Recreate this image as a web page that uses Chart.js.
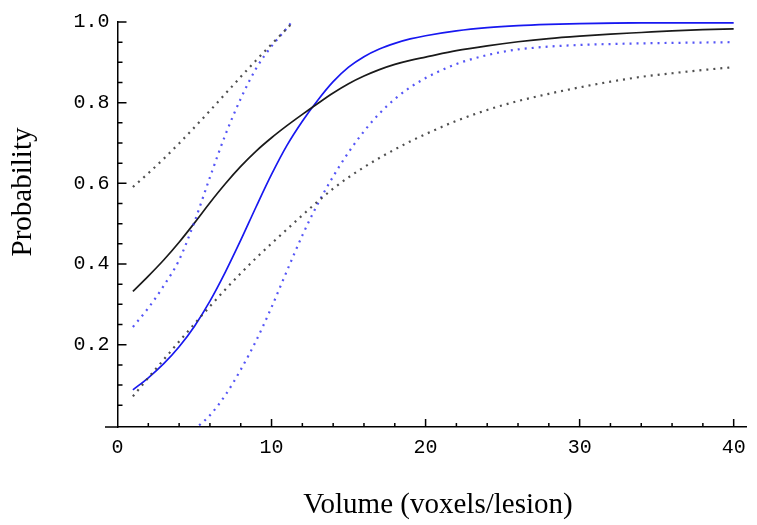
<!DOCTYPE html>
<html>
<head>
<meta charset="utf-8">
<script src="https://cdn.jsdelivr.net/npm/chart.js@4/dist/chart.umd.min.js"></script>
<style>
  html, body { margin: 0; padding: 0; background: #fff; }
  #wrap { position: relative; width: 757px; height: 525px; }
</style>
</head>
<body>
<div id="wrap"><canvas id="c" width="757" height="525"></canvas></div>
<script>
// ---- data ----
const xTickValues = [0, 10, 20, 30, 40];
const yTickValues = [0.2, 0.4, 0.6, 0.8, 1.0];
const xTitle = "Volume (voxels/lesion)";
const yTitle = "Probability";

const blackSolidX = [1,2,3,4,5,6,7,8,9,10,11,12,13,14,15,16,17,18,19,20,22,24,26,28,30,32,34,36,38,40];
const blackSolidY = [0.332,0.370,0.410,0.454,0.502,0.552,0.599,0.642,0.680,0.713,0.743,0.771,0.798,0.824,0.847,0.866,0.882,0.895,0.905,0.913,0.929,0.941,0.951,0.959,0.965,0.970,0.974,0.978,0.981,0.983];

const blueSolidX = [1,2,3,4,5,6,7,8,9,10,11,12,13,14,15,16,17,18,19,20,22,24,26,28,30,34,40];
const blueSolidY = [0.088,0.118,0.153,0.195,0.246,0.308,0.380,0.459,0.542,0.622,0.694,0.754,0.806,0.852,0.888,0.914,0.933,0.947,0.958,0.966,0.978,0.986,0.991,0.994,0.996,0.998,0.998];

const blackUpperX = [1,2,3,4,5,6,7,8,9,10,11,11.4];
const blackUpperY = [0.591,0.625,0.661,0.699,0.739,0.780,0.822,0.864,0.905,0.945,0.984,1.0];

const blackLowerX = [1,2,3,4,5,6,7,8,9,10,11,12,13,14,15,16,17,18,19,20,22,24,26,28,30,32,34,36,38,40];
const blackLowerY = [0.072,0.118,0.163,0.208,0.252,0.295,0.337,0.377,0.415,0.451,0.486,0.521,0.555,0.587,0.615,0.640,0.663,0.684,0.704,0.722,0.755,0.782,0.804,0.822,0.838,0.852,0.864,0.873,0.881,0.888];

const blueUpperX = [1,2,3,4,5,6,7,8,9,10,11,11.3];
const blueUpperY = [0.244,0.291,0.346,0.410,0.505,0.615,0.720,0.810,0.885,0.940,0.985,1.0];

const blueLowerX = [5.3,6,7,8,9,10,11,12,13,14,15,16,17,18,19,20,21,22,23,24,25,26,28,30,34,40];
const blueLowerY = [0.0,0.025,0.075,0.138,0.210,0.293,0.383,0.471,0.549,0.617,0.677,0.729,0.773,0.809,0.838,0.861,0.880,0.896,0.908,0.918,0.926,0.932,0.939,0.943,0.947,0.950];

function pts(xs, ys) { return xs.map((x, i) => ({ x: x, y: ys[i] })); }

const tickFont = { family: "'Liberation Mono', 'Courier New', monospace", size: 20 };

const axisDeco = {
  id: 'axisDeco',
  afterDraw(chart) {
    const ctx = chart.ctx;
    const xs = chart.scales.x, ys = chart.scales.y;
    const x0 = xs.getPixelForValue(0);
    const yb = ys.getPixelForValue(ys.min);
    ctx.save();
    ctx.strokeStyle = '#000';
    ctx.lineWidth = 1.5;
    ctx.beginPath();
    // x axis line continues a little to the left of the y axis
    ctx.moveTo(x0 - 12.5, yb); ctx.lineTo(x0, yb);
    // y ticks (inward, to the right)
    for (let i = 1; i <= 20; i++) {
      const v = i * 0.05;
      const p = ys.getPixelForValue(v);
      const len = (i % 4 === 0) ? 9 : 5;
      ctx.moveTo(x0, p); ctx.lineTo(x0 + len, p);
    }
    // x ticks (inward, upward)
    for (let v = 2; v <= 40; v += 2) {
      const p = xs.getPixelForValue(v);
      const len = (v % 10 === 0) ? 8 : 4;
      ctx.moveTo(p, yb); ctx.lineTo(p, yb - len);
    }
    ctx.stroke();
    // axis titles
    ctx.fillStyle = '#000';
    ctx.font = "29px 'Liberation Serif', 'Times New Roman', serif";
    ctx.textAlign = 'center';
    ctx.textBaseline = 'alphabetic';
    ctx.fillText(xTitle, 438, 513);
    ctx.translate(31, 192);
    ctx.rotate(-Math.PI / 2);
    ctx.fillText(yTitle, 0, 0);
    ctx.restore();
  }
};

const solidW = 1.7, dotW = 2.2;
const dash = [2, 5];
new Chart(document.getElementById('c'), {
  type: 'line',
  data: {
    datasets: [
      { data: pts(blackLowerX, blackLowerY), borderColor: 'rgba(60,60,60,0.9)', borderWidth: dotW, borderDash: dash },
      { data: pts(blackUpperX, blackUpperY), borderColor: 'rgba(60,60,60,0.9)', borderWidth: dotW, borderDash: dash },
      { data: pts(blueLowerX, blueLowerY), borderColor: 'rgba(55,55,245,0.85)', borderWidth: dotW, borderDash: dash },
      { data: pts(blueUpperX, blueUpperY), borderColor: 'rgba(55,55,245,0.85)', borderWidth: dotW, borderDash: dash },
      { data: pts(blackSolidX, blackSolidY), borderColor: '#1a1a1a', borderWidth: solidW },
      { data: pts(blueSolidX, blueSolidY), borderColor: '#1818f0', borderWidth: solidW }
    ]
  },
  options: {
    responsive: false,
    animation: false,
    elements: { point: { radius: 0 }, line: { cubicInterpolationMode: 'monotone', fill: false } },
    layout: { padding: { left: 0, right: 11, top: 22, bottom: 0 } },
    plugins: { legend: { display: false }, tooltip: { enabled: false }, title: { display: false } },
    scales: {
      x: {
        type: 'linear',
        position: 'bottom',
        min: 0, max: 40.8,
        afterFit(s) { s.height = 98; },
        afterBuildTicks(s) { s.ticks = xTickValues.map(v => ({ value: v })); },
        grid: { display: true, drawOnChartArea: false, drawTicks: false },
        border: { display: true, color: '#000', width: 1.5 },
        ticks: { font: tickFont, color: '#000', padding: 9, maxRotation: 0, autoSkip: false, callback: v => String(v) }
      },
      y: {
        type: 'linear',
        position: 'left',
        min: -0.004, max: 1.0,
        afterFit(s) { s.width = 117.5; },
        afterBuildTicks(s) { s.ticks = yTickValues.map(v => ({ value: v })); },
        grid: { display: true, drawOnChartArea: false, drawTicks: false },
        border: { display: true, color: '#000', width: 1.5 },
        ticks: { font: tickFont, color: '#000', padding: 8, autoSkip: false, callback: v => Number(v).toFixed(1) }
      }
    }
  },
  plugins: [axisDeco]
});
</script>
</body>
</html>
